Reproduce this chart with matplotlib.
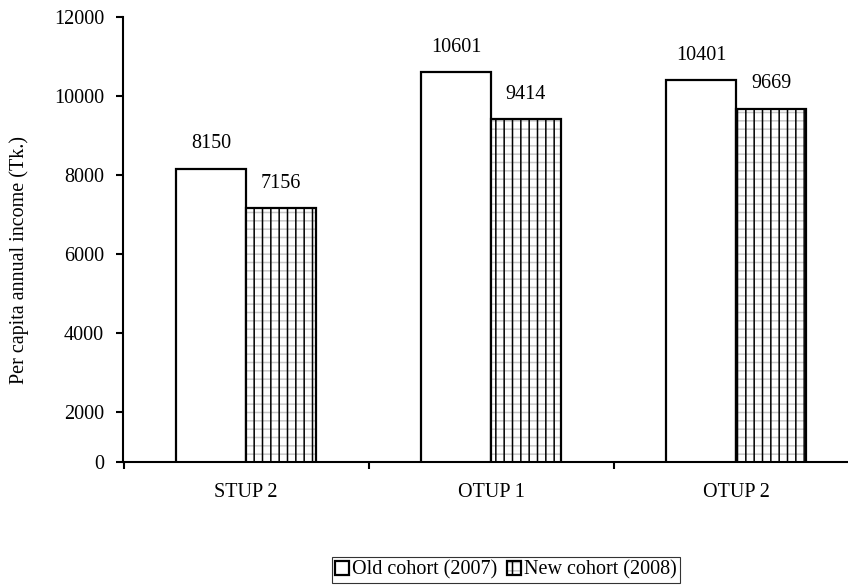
import matplotlib
matplotlib.use("Agg")
import matplotlib.pyplot as plt
from matplotlib.legend_handler import HandlerTuple
import numpy as np

categories = ["STUP 2", "OTUP 1", "OTUP 2"]
old_cohort = [8150, 10601, 10401]
new_cohort = [7156, 9414, 9669]
series_names = ["Old cohort (2007)", "New cohort (2008)"]
y_ticks = [2000, 4000, 6000, 8000, 10000, 12000]
y_floor = 720  # value where the category axis crosses, labelled "0"

plt.rcParams["font.family"] = ["Liberation Serif", "DejaVu Serif"]
plt.rcParams["hatch.linewidth"] = 1.1

FS = 14.5

fig = plt.figure(figsize=(8.48, 5.85), dpi=100)
ax = fig.add_axes([123.5 / 848, 123 / 585, 735 / 848, 445 / 585])

x = np.arange(len(categories))
w = 0.286

old_bars = ax.bar(x - w / 2, old_cohort, width=w, facecolor="white",
                  edgecolor="black", linewidth=1.6, zorder=2)
# grey horizontal rules underneath, black vertical rules on top
new_bg = ax.bar(x + w / 2, new_cohort, width=w, facecolor="white",
                edgecolor="#c8c8c8", linewidth=0, hatch="--", zorder=2)
new_fg = ax.bar(x + w / 2, new_cohort, width=w, facecolor="none",
                edgecolor="black", linewidth=1.6, hatch="||", zorder=3)

for xs, vals in ((x - w / 2, old_cohort), (x + w / 2, new_cohort)):
    for xi, v in zip(xs, vals):
        ax.annotate(f"{v}", (xi, v), xytext=(0, 18), textcoords="offset points",
                    ha="center", va="center", fontsize=FS)

ax.set_xlim(-0.5, 2.5)
ax.set_ylim(y_floor, 12000)
ax.set_yticks([y_floor] + y_ticks)
ax.set_yticklabels(["0"] + [str(t) for t in y_ticks], fontsize=FS)
ax.set_xticks(x)
ax.set_xticklabels(categories, fontsize=FS)
ax.set_xticks(np.arange(-0.5, 3.0, 1.0), minor=True)
ax.tick_params(axis="x", which="major", length=0, pad=15)
ax.tick_params(axis="x", which="minor", length=5, width=1.5, direction="out")
ax.tick_params(axis="y", length=5, width=1.5, direction="out", pad=9)
for s in ["top", "right"]:
    ax.spines[s].set_visible(False)
for s in ["left", "bottom"]:
    ax.spines[s].set_linewidth(1.5)

ax.set_ylabel("Per capita annual income (Tk.)", fontsize=FS)
ax.yaxis.set_label_coords((29 - 123.5) / 735, (462 - 260) / 445)

leg = fig.legend([old_bars[0], (new_bg[0], new_fg[0])], series_names,
                 handler_map={tuple: HandlerTuple(ndivide=1, pad=0)},
                 loc="center", bbox_to_anchor=(506 / 848, 1 - 570 / 585),
                 ncol=2, fontsize=FS, frameon=True, fancybox=False,
                 handlelength=0.7, handleheight=0.7, handletextpad=0.15,
                 columnspacing=0.5, borderpad=0.15, borderaxespad=0)
leg.get_frame().set_edgecolor("black")
leg.get_frame().set_linewidth(0.8)

fig.savefig("out.png", dpi=100)
